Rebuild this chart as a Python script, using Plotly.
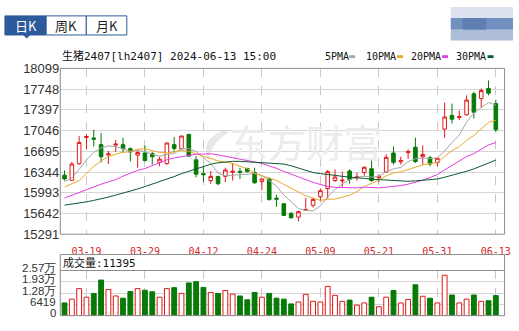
import plotly.graph_objects as go

W, H = 519, 331

dates = ["03-14","03-15","03-18","03-19","03-20","03-21","03-22","03-25","03-26","03-27",
         "03-28","03-29","04-01","04-02","04-03","04-08","04-09","04-10","04-11","04-12",
         "04-15","04-16","04-17","04-18","04-19","04-22","04-23","04-24","04-25","04-26",
         "04-29","04-30","05-06","05-07","05-08","05-09","05-10","05-13","05-14","05-15",
         "05-16","05-17","05-20","05-21","05-22","05-23","05-24","05-27","05-28","05-29",
         "05-30","05-31","06-03","06-04","06-05","06-06","06-07","06-11","06-12","06-13"]

open_ = [16291,16203,16485,16929,16921,16808,16635,16800,16808,16738,
         16630,16667,16658,16506,16485,16808,16738,16981,16550,16316,
         16199,16270,16270,16340,16356,16404,16335,16183,16227,15901,
         15807,15646,15581,15694,15780,15925,16065,16199,16194,16361,
         16246,16335,16399,16246,16345,16667,16517,16671,16764,16603,
         16587,16506,17071,17303,17268,17313,17668,17587,17760,17502]
high = [16372,16517,16953,16985,17061,17006,16700,16889,16926,16764,
        16711,16792,16684,16603,16845,16937,16961,16990,16614,16437,
        16361,16280,16416,16496,16416,16416,16416,16227,16254,15957,
        15815,15662,15689,15904,15904,16065,16380,16388,16351,16388,
        16335,16442,16538,16307,16646,16775,16603,16727,16926,16792,
        16619,16587,17518,17502,17384,17642,17707,17760,17894,17566]
low = [16199,16194,16469,16727,16776,16506,16480,16684,16667,16522,
       16416,16522,16469,16441,16469,16684,16727,16598,16254,16174,
       16146,16119,16174,16199,16227,16335,16146,16038,15860,15754,
       15597,15554,15508,15694,15743,15851,15896,16174,16093,16146,
       16199,16280,16183,16174,16335,16469,16469,16566,16496,16469,
       16441,16441,16926,17168,17223,17303,17248,17437,17642,17018]
close = [16227,16480,16845,16945,16900,16603,16651,16816,16738,16684,
         16674,16538,16603,16561,16835,16743,16953,16614,16307,16299,
         16270,16146,16377,16356,16340,16351,16162,16227,15877,15885,
         15609,15570,15673,15705,15880,16028,16351,16259,16206,16219,
         16262,16425,16199,16270,16593,16509,16541,16687,16522,16642,
         16480,16577,17276,17239,17284,17562,17357,17723,17679,17061]

volume = [7222,9394,15367,10480,12652,20254,14824,11186,9937,13738,
          15367,14444,13575,10480,15367,15910,12652,18625,19331,16073,
          13195,12652,14281,12272,11186,9014,13195,10480,12652,9937,
          9394,6679,7765,12109,8145,7765,16616,11566,8145,8851,
          5973,7222,10480,5050,10480,14281,7222,9231,17539,11023,
          9937,7222,22969,11729,7222,9394,11729,8145,8471,11395]

ma5 = [16178,16243,16388,16550,16676,16751,16786,16777,16738,16695,
       16709,16687,16647,16612,16642,16656,16739,16741,16690,16583,
       16489,16327,16280,16290,16298,16314,16317,16287,16191,16104,
       15955,15837,15726,15692,15687,15771,15927,16045,16145,16213,
       16256,16271,16259,16272,16347,16399,16422,16520,16570,16580,
       16574,16582,16699,16843,16971,17188,17344,17433,17521,17476]
ma10 = [16093,16146,16199,16324,16441,16533,16603,16646,16679,16686,
        16730,16737,16712,16675,16669,16683,16713,16694,16651,16613,
        16573,16533,16511,16490,16441,16402,16322,16284,16241,16201,
        16135,16077,16007,15942,15896,15863,15882,15886,15919,15950,
        16014,16099,16152,16209,16280,16328,16347,16390,16421,16464,
        16487,16502,16610,16707,16776,16881,16963,17066,17182,17224]
ma20 = [15904,15952,16001,16049,16090,16138,16178,16215,16275,16324,
        16372,16404,16453,16501,16550,16582,16606,16630,16646,16650,
        16652,16635,16612,16583,16555,16543,16518,16489,16446,16407,
        16354,16305,16259,16216,16169,16133,16102,16085,16080,16076,
        16075,16088,16080,16076,16088,16096,16115,16138,16170,16207,
        16251,16301,16381,16458,16528,16605,16655,16728,16802,16844]
ma30 = [15783,15799,15815,15839,15864,15888,15920,15953,15985,16017,
        16057,16098,16138,16178,16227,16267,16316,16356,16404,16445,
        16477,16501,16517,16525,16525,16517,16509,16505,16502,16495,
        16479,16449,16410,16369,16335,16316,16306,16288,16270,16255,
        16241,16236,16223,16214,16206,16198,16184,16187,16194,16205,
        16212,16226,16256,16286,16317,16357,16397,16447,16507,16546]

price_ticks = [15291,15642,15993,16344,16695,17046,17397,17748,18099]
vol_ticks = [0,6419,12838,19257,25676]
vol_tick_text = ["0","6419","1.28万","1.93万","2.57万"]
date_ticks = ["03-19","03-29","04-12","04-24","05-09","05-21","05-31","06-13"]
ma_names = ["5PMA","10PMA","20PMA","30PMA"]
title_text = "生猪2407[lh2407] 2024-06-13 15:00"
tabs = ["日K","周K","月K"]
watermark = "东方财富"

RED = "#e01818"
GREEN = "#077a07"
MA_COLORS = ["#a6a6a6", "#e8a92a", "#e23ce2", "#0b5a2e"]
MONO = "DejaVu Sans Mono, Noto Sans CJK SC"


def px(x):
    return x / W


def py(y):
    return 1 - y / H


fig = go.Figure()

# watermark text (first trace, so it sits below the marks)
fig.add_trace(go.Scatter(x=[dates[33]], y=[(price_ticks[4] + price_ticks[5]) / 2 - 110], mode="text",
                         text=[watermark], textfont=dict(size=38, color="#ececec",
                                                         family="Noto Sans CJK SC"),
                         hoverinfo="skip", showlegend=False, xaxis="x", yaxis="y"))

for name, vals, col in zip(ma_names, [ma5, ma10, ma20, ma30], MA_COLORS):
    fig.add_trace(go.Scatter(x=dates, y=vals, mode="lines", line=dict(color=col, width=1),
                             name=name, showlegend=False, xaxis="x", yaxis="y"))

fig.add_trace(go.Candlestick(
    x=dates, open=open_, high=high, low=low, close=close,
    increasing=dict(line=dict(color=RED, width=1), fillcolor="white"),
    decreasing=dict(line=dict(color=GREEN, width=1), fillcolor=GREEN),
    whiskerwidth=0, showlegend=False, xaxis="x", yaxis="y"))

up = [c >= o for o, c in zip(open_, close)]
fig.add_trace(go.Bar(x=[d for d, u in zip(dates, up) if u], y=[v for v, u in zip(volume, up) if u],
                     marker=dict(color="white", line=dict(color=RED, width=1)), width=0.66,
                     showlegend=False, xaxis="x2", yaxis="y2"))
fig.add_trace(go.Bar(x=[d for d, u in zip(dates, up) if not u], y=[v for v, u in zip(volume, up) if not u],
                     marker=dict(color=GREEN, line=dict(color=GREEN, width=1)), width=0.66,
                     showlegend=False, xaxis="x2", yaxis="y2"))

xdom = [px(61), px(510.5)]
xr = [-0.58, 60.2]
common_x = dict(type="category", categoryorder="array", categoryarray=dates, range=xr,
                domain=xdom, showgrid=True, gridcolor="#c8c8c8", griddash="dash", gridwidth=1,
                tickmode="array", tickvals=date_ticks, zeroline=False, showline=False,
                rangeslider=dict(visible=False), fixedrange=True)

fig.update_layout(
    width=W, height=H, margin=dict(l=0, r=0, t=0, b=0),
    paper_bgcolor="white", plot_bgcolor="white",
    xaxis=dict(**common_x, ticks="", tickfont=dict(family=MONO, size=10, color="#d42a2a"),
               ticktext=date_ticks, anchor="y", ticklabelstandoff=10),
    yaxis=dict(domain=[py(238), py(64.3)], range=[price_ticks[0], price_ticks[-1]],
               tickmode="array", tickvals=price_ticks, ticktext=[str(t) for t in price_ticks],
               tickfont=dict(family="Liberation Sans", size=13, color="#333333"),
               showgrid=True, gridcolor="#d6d6d6", zeroline=False, ticks="", anchor="x"),
    xaxis2=dict(**common_x, showticklabels=False, anchor="y2"),
    yaxis2=dict(domain=[py(323.3), py(276)], range=[vol_ticks[0], vol_ticks[-1]],
                tickmode="array", tickvals=vol_ticks, showticklabels=False,
                showgrid=True, gridcolor="#d6d6d6", zeroline=False, anchor="x2"),
    bargap=0.3, showlegend=False,
)

shapes = []
# watermark swoosh (below traces)
shapes.append(dict(type="path", xref="paper", yref="paper", layer="below",
                   path=(f"M {px(226)} {py(129)} Q {px(200)} {py(140)} {px(212)} {py(163)} "
                         f"Q {px(210)} {py(145)} {px(232)} {py(131)} Z"),
                   fillcolor="#e8e8e8", line=dict(width=0)))
# main plot border
shapes.append(dict(type="rect", xref="paper", yref="paper", x0=px(61), x1=px(510.5),
                   y0=py(238), y1=py(64.3), line=dict(color="#8c8c8c", width=1)))
# volume box and header separator
shapes.append(dict(type="rect", xref="paper", yref="paper", x0=px(61), x1=px(510.5),
                   y0=py(323.3), y1=py(259.3), line=dict(color="#8c8c8c", width=1)))
shapes.append(dict(type="line", xref="paper", yref="paper", x0=px(61), x1=px(510.5),
                   y0=py(276), y1=py(276), line=dict(color="#8c8c8c", width=1)))

# tabs
tab_x = [5, 46.7, 87.3, 128.3]
TAB_BLUE = "#2d5a9a"
for i in range(3):
    shapes.append(dict(type="rect", xref="paper", yref="paper", x0=px(tab_x[i]), x1=px(tab_x[i + 1]),
                       y0=py(29.3), y1=py(9.3), line=dict(color=TAB_BLUE, width=1),
                       fillcolor=TAB_BLUE if i == 0 else "white"))
shapes.append(dict(type="path", xref="paper", yref="paper",
                   path=f"M {px(23.5)} {py(29.3)} L {px(30.5)} {py(29.3)} L {px(27)} {py(33)} Z",
                   fillcolor=TAB_BLUE, line=dict(width=0)))

# blurred logo blocks (top right)
blocks = [(456, 519, 0, 11.5, "#dde3ee"), (456, 519, 11.5, 23.7, "#7190c0"),
          (456, 519, 23.7, 35, "#adbdd7"), (468, 492, 11.5, 23.7, "#5f7fb4")]
for x0, x1, y0, y1, c in blocks:
    shapes.append(dict(type="rect", xref="paper", yref="paper", x0=px(x0), x1=px(x1),
                       y0=py(y1), y1=py(y0), fillcolor=c, line=dict(width=0)))

# legend markers
leg_label_x = [327, 368.3, 414, 459.3]
leg_mark_x = [353.3, 401.7, 447.3, 493.3]
for mx, c in zip(leg_mark_x, MA_COLORS):
    shapes.append(dict(type="rect", xref="paper", yref="paper", x0=px(mx), x1=px(mx + 6),
                       y0=py(53.5), y1=py(50.5), fillcolor=c, line=dict(width=0)))

ann = []
for i, t in enumerate(tabs):
    ann.append(dict(x=px((tab_x[i] + tab_x[i + 1]) / 2), y=py(19.5), xref="paper", yref="paper",
                    text=t, showarrow=False, xanchor="center", yanchor="middle",
                    font=dict(family="Noto Sans CJK SC", size=13, color="white" if i == 0 else "#222222")))
ann.append(dict(x=px(60.5), y=py(51.8), xref="paper", yref="paper", text=title_text, showarrow=False,
                xanchor="left", yanchor="middle", font=dict(family=MONO, size=11, color="#111111")))
for lx, name in zip(leg_label_x, ma_names):
    ann.append(dict(x=px(lx), y=py(52), xref="paper", yref="paper", text=name, showarrow=False,
                    xanchor="left", yanchor="middle", font=dict(family=MONO, size=10, color="#111111")))
ann.append(dict(x=px(62), y=py(268), xref="paper", yref="paper", text=f"成交量:{volume[-1]}",
                showarrow=False, xanchor="left", yanchor="middle",
                font=dict(family=MONO, size=11, color="#111111")))
for v, t in zip(vol_ticks, vol_tick_text):
    ann.append(dict(x=px(58.5), y=v, xref="paper", yref="y2", text=t, showarrow=False,
                    xanchor="right", yanchor="middle", yshift=2.5,
                    font=dict(family="Liberation Sans", size=11.5, color="#333333")))

fig.update_layout(shapes=shapes, annotations=ann)
fig.write_html("out.html", config={"displayModeBar": False})
